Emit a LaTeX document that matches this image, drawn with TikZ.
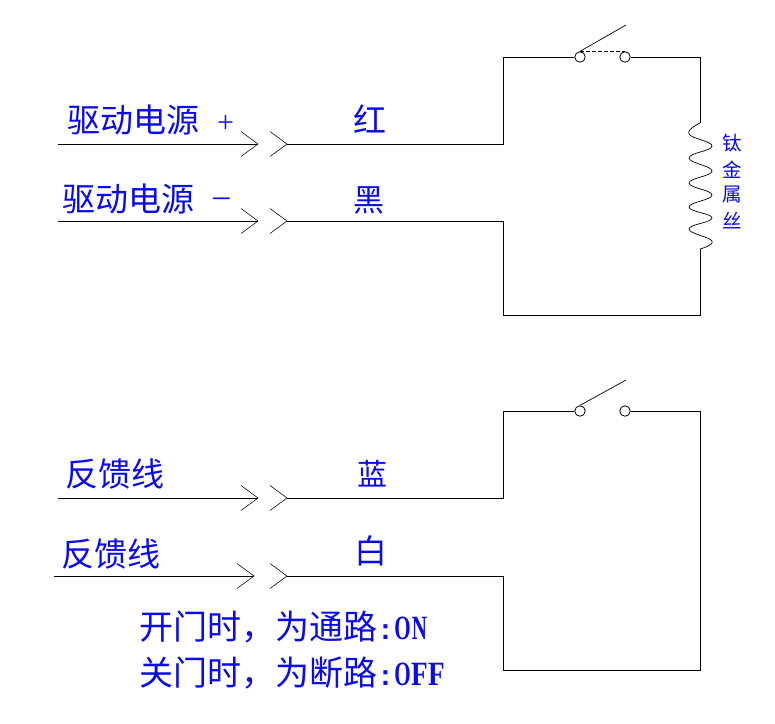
\documentclass[tikz,border=0pt]{standalone}
\usepackage{fontspec}
\newfontfamily\cjk{Noto Sans CJK SC}
\newfontfamily\lat{Liberation Mono}
\newfontfamily\sym{Liberation Serif}
\definecolor{lblue}{RGB}{10,10,235}
\newcommand{\fs}[1]{\fontsize{#1pt}{#1pt}\selectfont}
\newcommand{\hc}[2]{\makebox[17pt]{\sym\bfseries\fs{34}\scalebox{#2}[1]{#1}}}
\tikzset{
  wire/.style={draw=black,line width=0.9pt},
  barb/.style={draw=black,line width=0.55pt},
  contact/.style={circle,draw=black,line width=0.8pt,minimum size=10.5pt,inner sep=0pt,fill=white},
  lab/.style={text=lblue,inner sep=0pt,anchor=base west,font=\cjk\fs{33}},
  note/.style={text=lblue,inner sep=0pt,anchor=base west,font=\cjk\fs{34}},
  side/.style={text=lblue,inner sep=0pt,anchor=center,font=\cjk\fs{19.5}}
}
\newcommand{\arrowpair}[4]{% name, xstart, tip x, y
  \coordinate (#1s) at (#2,#4);
  \coordinate (#1t) at (#3,#4);
  \coordinate (#1c) at (287,#4);
  \draw[wire] (#1s) -- (#1t);
  \draw[barb] ($(#1t)+(-17,-12.5)$) -- (#1t) -- ($(#1t)+(-17,12.5)$);
  \draw[barb] ($(#1c)+(-17,-12.5)$) -- (#1c) -- ($(#1c)+(-17,12.5)$);
}
\usetikzlibrary{calc}
\begin{document}
\begin{tikzpicture}[x=1pt,y=-1pt]
\useasboundingbox (0,0) rectangle (775,723);
% ---- upper circuit
\arrowpair{a}{58}{258}{144}
\arrowpair{b}{58}{258}{221}
\node[contact] (s1a) at (580,57) {};
\node[contact] (s1b) at (625,57) {};
\coordinate (s1arm) at (626,25);
\coordinate (coilT) at (700,123);
\coordinate (coilB) at (700,249);
\draw[wire] (ac) -- (503,144) -- (503,57) -- (s1a.west);
\draw[wire] (s1b.east) -- (700,57) -- (coilT);
\draw[wire] (bc) -- (503,221) -- (503,315) -- (700,315) -- (coilB);
\draw[barb,line width=0.7pt] (s1a.north) -- (s1arm);
\draw[barb,line width=0.8pt,dash pattern=on 3.5pt off 2.5pt] (s1a.north) -- (s1b.north);
\draw[barb,line width=0.7pt] plot[smooth,tension=0.75] coordinates {
 (700,123) (689,134) (712,146) (689,158) (712,171) (689,183)
 (712,195) (689,207) (712,218) (689,229) (712,241) (700,249)};
\node[lab] (t1) at (67,132) {驱动电源\hspace{18pt}{\sym\fs{30}+}};
\node[lab] (t2) at (62,211) {驱动电源\hspace{19pt}\raisebox{5pt}{\sym\fs{33}–}};
\node[lab] (hong) at (353,132) {红};
\node[lab,font=\cjk\fs{31}] (hei) at (353,211) {黑};
\node[side] (g1) at (732,143) {钛};
\node[side] (g2) at (732,170) {金};
\node[side] (g3) at (732,195) {属};
\node[side] (g4) at (732,221) {丝};
% ---- lower circuit
\arrowpair{c}{58}{258}{498}
\arrowpair{d}{54}{254}{576}
\node[contact] (s2a) at (580,411) {};
\node[contact] (s2b) at (625,411) {};
\coordinate (s2arm) at (626,380);
\draw[wire] (cc) -- (503,498) -- (503,411) -- (s2a.west);
\draw[wire] (s2b.east) -- (700,411) -- (700,670) -- (503,670) -- (503,576) -- (dc);
\draw[barb,line width=0.7pt] (s2a.north) -- (s2arm);
\node[lab] (t3) at (65,486) {反馈线};
\node[lab] (t4) at (61,566) {反馈线};
\node[lab,font=\cjk\fs{30}] (lan) at (357,485) {蓝};
\node[lab] (bai) at (354,563) {白};
\node[note] (n1) at (139,639) {开门时，为通路{\lat\bfseries\fs{28}:}\hc{O}{.62}\hc{N}{.62}};
\node[note] (n2) at (139,685) {关门时，为断路{\lat\bfseries\fs{28}:}\hc{O}{.62}\hc{F}{.8}\hc{F}{.8}};
\end{tikzpicture}
\end{document}
